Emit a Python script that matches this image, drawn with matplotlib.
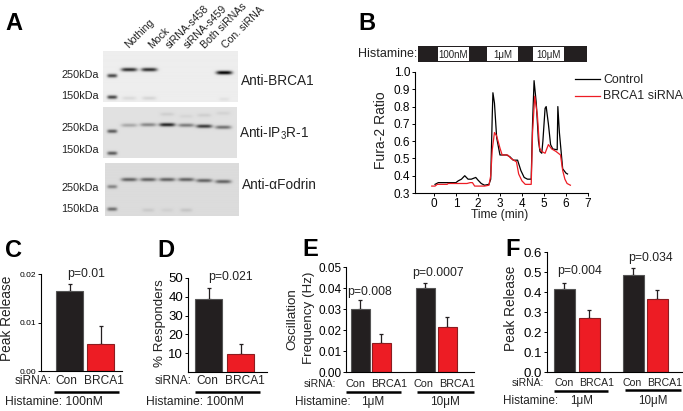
import numpy as np
import matplotlib
matplotlib.use("Agg")
import matplotlib.pyplot as plt

plt.rcParams['font.family'] = ['Liberation Sans', 'DejaVu Sans']
plt.rcParams['mathtext.default'] = 'regular'

W, H = 683, 411
BLACK = '#231f20'
RED = '#ed1c24'

# Panel B traces
time_control = [0.05, 0.2, 1.0, 1.1, 1.25, 1.4, 1.55, 1.7, 1.9, 2.0, 2.15, 2.3, 2.5, 2.58, 2.65, 2.68, 2.75, 2.85, 3.0, 3.3, 3.45, 3.6, 3.8, 3.95, 4.1, 4.25, 4.42, 4.48, 4.55, 4.65, 4.75, 4.82, 4.9, 4.95, 5.05, 5.1, 5.2, 5.3, 5.4, 5.6, 5.63, 5.7, 5.85, 6.0, 6.07]
ratio_control = [.35, .36, .36, .37, .38, .40, .38, .38, .39, .375, .355, .345, .35, .38, .75, .88, .82, .62, .52, .52, .51, .49, .49, .43, .39, .38, .38, .7, .95, .82, .6, .54, .53, .6, .79, .80, .7, .58, .555, .55, .8, .65, .44, .415, .41]
time_sirna = [-0.1, 0.05, 0.15, 0.6, 0.65, 1.5, 1.65, 1.75, 1.85, 2.3, 2.5, 2.58, 2.65, 2.75, 2.85, 3.0, 3.1, 3.35, 3.5, 3.75, 3.85, 4.0, 4.15, 4.42, 4.48, 4.58, 4.7, 4.8, 4.9, 5.05, 5.2, 5.35, 5.55, 5.75, 5.85, 5.95, 6.05, 6.2]
ratio_sirna = [.34, .34, .35, .35, .355, .355, .36, .36, .34, .34, .345, .4, .55, .65, .63, .56, .52, .52, .50, .48, .41, .37, .35, .35, .65, .86, .75, .56, .54, .53, .58, .555, .54, .52, .43, .38, .355, .345]

# Bar panels
peak_100 = [0.0165, 0.0056]
peak_100_top = [0.018, 0.0093]
resp_100 = [39, 9.5]
resp_100_top = [44.5, 15]
osc_freq = [0.0302, 0.0140, 0.0400, 0.0212]
osc_freq_top = [0.0343, 0.0182, 0.0425, 0.0262]
peak_dose = [0.417, 0.27, 0.487, 0.367]
peak_dose_top = [0.447, 0.31, 0.52, 0.41]

# Blot bands: lane x, band y, half width, darkness
blot_brca1 = [(129, 70, 8, .8), (149, 70, 8, .8), (224, 73, 8, 1.0), (129, 98, 7, .08), (149, 98, 7, .1), (224, 99, 5, .05),
	(112, 76, 5, .7), (112, 97, 5, .7)]
blot_ip3r = [(129, 125, 8, .25), (148, 124.5, 8, .4), (167, 124.5, 8, .85), (186, 125, 8, .45), (204, 126, 8, .75), (223, 127, 8, .5),
	(167, 114, 7, .08), (186, 116, 7, .05), (204, 115, 7, .08), (223, 113, 7, .06),
	(112, 131, 5, .6), (112, 153, 5, .6)]
blot_fodrin = [(129, 180, 8, .55), (148, 180, 8, .55), (167, 180, 8, .55), (186, 180, 8, .55), (204, 181, 8, .55), (223, 182, 8, .55),
	(148, 210, 6, .08), (167, 210, 6, .05), (186, 210, 6, .1),
	(112, 187, 5, .4), (112, 209, 5, .5)]

fig = plt.figure(figsize=(W / 100, H / 100), dpi=100)

# Overlay in pixel coordinates for labels and blots
ov = fig.add_axes([0, 0, 1, 1], zorder=5)
ov.patch.set_alpha(0)
ov.axis('off')


def px_axes(left, right, top, bottom):
	ax = fig.add_axes([left / W, 1 - bottom / H, (right - left) / W, (bottom - top) / H])
	ax.patch.set_alpha(0)
	ax.spines['top'].set_visible(False)
	ax.spines['right'].set_visible(False)
	ax.tick_params(length=2, width=0.7, pad=1.5)
	for s in ('left', 'bottom'):
		ax.spines[s].set_linewidth(0.8)
	return ax


def label(x, y, s, size=8.5, ha='left', va='center', **kw):
	ov.text(x, y, s, fontsize=size, ha=ha, va=va, color=kw.pop('color', '#222222'), **kw)


def draw_blot(x0, x1, y0, y1, bands, shade):
	xs = np.arange(x0, x1, 0.5)
	ys = np.arange(y0, y1, 0.5)
	xx, yy = np.meshgrid(xs, ys)
	img = np.full(xx.shape, shade)
	for bx, by, hw, dark in bands:
		img -= dark * shade * np.exp(-((xx - bx) / hw) ** 4) * np.exp(-((yy - by) / 1.8) ** 2)
	ov.imshow(img, cmap='gray', vmin=0, vmax=1, extent=(x0, x1, y1, y0), aspect='auto', interpolation='bilinear')


def bars(ax, lefts, width, vals, tops):
	colors = [BLACK, RED] * (len(vals) // 2)
	edges = ['#555555', '#8c1c20'] * (len(vals) // 2)
	ax.bar(lefts, vals, width=width, align='edge', color=colors, edgecolor=edges, linewidth=0.8, zorder=2)
	mids = [l + width / 2 for l in lefts]
	errs = [t - v for t, v in zip(tops, vals)]
	ax.errorbar(mids, vals, yerr=[[0] * len(vals), errs], fmt='none', ecolor=BLACK, elinewidth=0.9, capsize=1.3, capthick=0.9, zorder=1)


# A: blots
draw_blot(103, 238, 52, 102, blot_brca1, .93)
draw_blot(103, 237, 107, 158, blot_ip3r, .88)
draw_blot(105, 239, 164, 216, blot_fodrin, .86)
for name, x in zip(['Nothing', 'Mock', 'siRNA-s458', 'siRNA-s459', 'Both siRNAs', 'Con. siRNA'], [130, 154, 171, 189, 206, 227]):
	ov.text(x, 50, name, fontsize=7.6, rotation=45, rotation_mode='anchor', ha='left', va='bottom', color='#222222')
for y in (75, 128, 188):
	label(99, y, '250kDa', 7.8, ha='right')
for y in (96, 150, 209):
	label(99, y, '150kDa', 7.8, ha='right')
label(241, 81, 'Anti-BRCA1', 9.8)
label(239, 133, 'Anti-IP$_3$R-1', 9.8)
label(242, 185, 'Anti-αFodrin', 9.8)

# B: trace
ax_b = px_axes(415, 588, 72, 193)
ax_b.plot(time_control, ratio_control, color='black', lw=0.9)
ax_b.plot(time_sirna, ratio_sirna, color=RED, lw=0.9)
ax_b.set_xlim(-0.86, 7)
ax_b.set_ylim(0.3, 1.0)
ax_b.set_xticks(range(8))
ax_b.set_yticks([.3, .4, .5, .6, .7, .8, .9, 1.0])
ax_b.tick_params(labelsize=8.5)
label(381, 130, 'Fura-2 Ratio', 10, ha='center', rotation=90)
label(500, 215, 'Time (min)', 8.7, ha='center')
label(358, 54, 'Histamine:', 9)
ov.add_patch(plt.Rectangle((418, 46), 169, 16, color=BLACK, lw=0))
for x0, x1, s in [(438, 469, '100nM'), (487, 518, '1μM'), (533, 564, '10μM')]:
	ov.add_patch(plt.Rectangle((x0, 47), x1 - x0, 14, color='white', lw=0))
	label((x0 + x1) / 2, 54.5, s, 7, ha='center')
ov.plot([575, 600], [79, 79], color='black', lw=0.9)
ov.plot([575, 600], [96, 96], color=RED, lw=0.9)
label(603, 80, 'Control', 8.9)
label(603, 96, 'BRCA1 siRNA', 8.9)

# C
ax_c = px_axes(41, 122, 274, 371)
bars(ax_c, [15, 46], 27, peak_100, peak_100_top)
ax_c.set_xlim(0, 81)
ax_c.set_ylim(0, 0.02)
ax_c.set_xticks([])
ax_c.set_yticks([0, 0.01, 0.02], ['0.00', '0.01', '0.02'])
ax_c.tick_params(labelsize=6)
label(7, 318, 'Peak Release', 9.8, ha='center', rotation=90)
label(86, 274, 'p=0.01', 8.8, ha='center')
label(15, 381, 'siRNA:', 8.6)
label(66, 381, 'Con', 8.6, ha='center')
label(104, 381, 'BRCA1', 8.6, ha='center')
ov.plot([54, 119], [392, 392], color='black', lw=1.8, solid_capstyle='butt')
label(5, 402, 'Histamine: 100nM', 8.7)

# D
ax_d = px_axes(188, 267, 278, 372)
bars(ax_d, [7, 39], 27, resp_100, resp_100_top)
ax_d.set_xlim(0, 79)
ax_d.set_ylim(0, 50)
ax_d.set_xticks([])
ax_d.set_yticks([10, 20, 30, 40, 50])
ax_d.tick_params(labelsize=9.5)
label(160, 323, '% Responders', 9.6, ha='center', rotation=90)
label(230, 277, 'p=0.021', 8.8, ha='center')
label(155, 381, 'siRNA:', 8.6)
label(207, 381, 'Con', 8.6, ha='center')
label(245, 381, 'BRCA1', 8.6, ha='center')
ov.plot([195, 260], [392, 392], color='black', lw=1.8, solid_capstyle='butt')
label(146, 402, 'Histamine: 100nM', 8.7)

# E
ax_e = px_axes(346, 474, 267, 372)
bars(ax_e, [5, 26, 70, 92], 18.5, osc_freq, osc_freq_top)
ax_e.set_xlim(0, 128)
ax_e.set_ylim(0, 0.05)
ax_e.set_xticks([])
ax_e.set_yticks([0, .01, .02, .03, .04, .05], ['0.00', '0.01', '0.02', '0.03', '0.04', '0.05'])
ax_e.tick_params(labelsize=8.5)
label(292, 319, 'Oscillation', 9.6, ha='center', rotation=90)
label(309, 318, 'Frequency (Hz)', 9.6, ha='center', rotation=90)
label(370, 292, 'p=0.008', 8.8, ha='center')
label(438, 273, 'p=0.0007', 8.8, ha='center')
label(304, 384, 'siRNA:', 7.5)
for x, s in [(356, 'Con'), (389, 'BRCA1'), (423, 'Con'), (457, 'BRCA1')]:
	label(x, 384, s, 7.8, ha='center')
ov.plot([346, 401], [392, 392], color='black', lw=1.8, solid_capstyle='butt')
ov.plot([417, 474], [392, 392], color='black', lw=1.8, solid_capstyle='butt')
label(295, 402, 'Histamine:', 8.5)
label(373, 402, '1μM', 8.5, ha='center')
label(445, 402, '10μM', 8.5, ha='center')

# F
ax_f = px_axes(547, 683, 252, 372)
bars(ax_f, [7, 32, 76, 100], 20.5, peak_dose, peak_dose_top)
ax_f.set_xlim(0, 136)
ax_f.set_ylim(0, 0.6)
ax_f.set_xticks([])
ax_f.set_yticks([0, .1, .2, .3, .4, .5, .6])
ax_f.tick_params(labelsize=9.5)
label(511, 308, 'Peak Release', 9.8, ha='center', rotation=90)
label(580, 271, 'p=0.004', 8.8, ha='center')
label(650, 258, 'p=0.034', 8.8, ha='center')
label(512, 383, 'siRNA:', 7.5)
for x, s in [(564, 'Con'), (597, 'BRCA1'), (632, 'Con'), (665, 'BRCA1')]:
	label(x, 383, s, 7.6, ha='center')
ov.plot([554, 608], [391, 391], color='black', lw=1.8, solid_capstyle='butt')
ov.plot([625, 681], [390, 390], color='black', lw=1.8, solid_capstyle='butt')
label(503, 401, 'Histamine:', 8.4)
label(582, 401, '1μM', 8.4, ha='center')
label(653, 401, '10μM', 8.4, ha='center')

# Panel letters
for x, y, s in [(5, 24, 'A'), (358, 24, 'B'), (5, 250, 'C'), (157, 250, 'D'), (302, 249, 'E'), (505, 249, 'F')]:
	ov.text(x, y, s, fontsize=17, fontweight='bold', ha='left', va='center', color='black')

ov.set_xlim(0, W)
ov.set_ylim(H, 0)

fig.savefig('out.png', dpi=100)
